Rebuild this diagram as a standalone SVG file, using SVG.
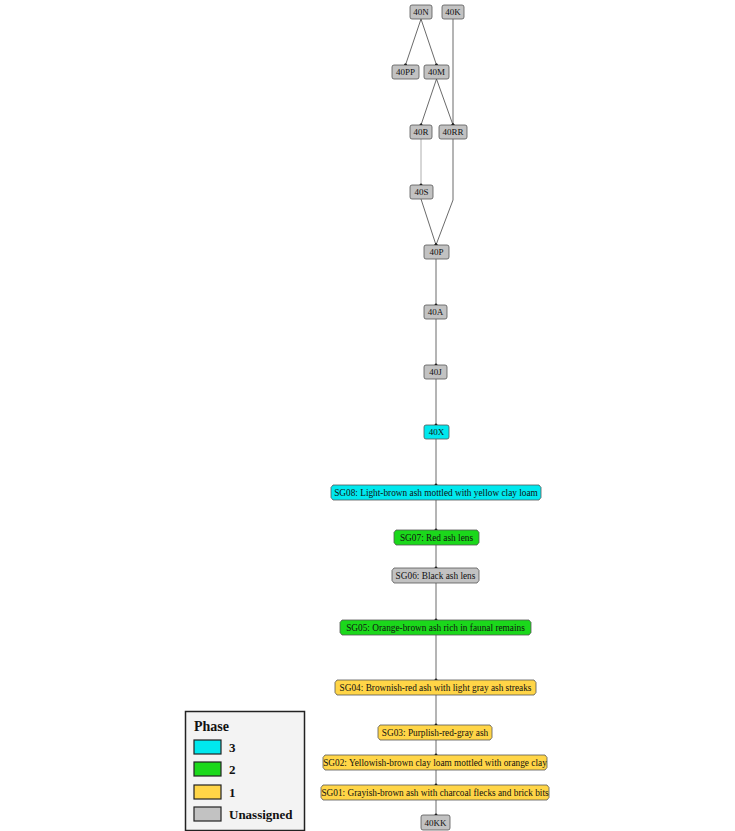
<svg xmlns="http://www.w3.org/2000/svg" width="735" height="831" viewBox="0 0 735 831">
<style>
.n rect,.n path{stroke:#555;stroke-width:0.8}
.g{fill:#c2c2c2}
.c{fill:#00e8ee}
.gr{fill:#1bd81b}
.y{fill:#ffd547}
.n text{font-family:"Liberation Serif",serif;font-size:9px;text-anchor:middle;fill:#111}
.n text.s{font-size:9.3px}
.e{stroke:#444;stroke-width:0.8;fill:none;marker-end:url(#dot)}
.lg text{font-family:"Liberation Serif",serif;font-weight:bold;fill:#111}
</style>
<defs>
<marker id="dot" viewBox="0 0 4 4" refX="2" refY="2" markerWidth="4" markerHeight="4" markerUnits="userSpaceOnUse" orient="auto">
<circle cx="2" cy="2" r="1.5" fill="#000"/>
</marker>
</defs>
<rect width="735" height="831" fill="#fff"/>
<g id="connectors">
<path class="e" d="M421,19 L405.5,65"/>
<path class="e" d="M421,19 L436.5,65"/>
<path class="e" d="M453,19 L453,125"/>
<path class="e" d="M436.5,79 L421,125"/>
<path class="e" d="M436.5,79 L453,125"/>
<path class="e" d="M421,139 L421,185" style="stroke:#999"/>
<path class="e" d="M421,199 L436,245"/>
<path class="e" d="M453,139 L453,200 L436,245"/>
<path class="e" d="M436,259 L436,305"/>
<path class="e" d="M436,319 L436,365"/>
<path class="e" d="M436,379 L436,425"/>
<path class="e" d="M436,439 L436,485"/>
<path class="e" d="M436,500 L436,530"/>
<path class="e" d="M436,545 L436,568"/>
<path class="e" d="M436,583 L436,620"/>
<path class="e" d="M436,635 L436,680"/>
<path class="e" d="M436,695 L436,725"/>
<path class="e" d="M436,740 L436,755"/>
<path class="e" d="M436,770 L436,785"/>
<path class="e" d="M436,800 L436,815"/>
</g>
<g id="n40N" class="n"><rect class="g" x="410" y="5" width="22" height="14" rx="2"/><text x="421" y="15.3">40N</text></g>
<g id="n40K" class="n"><rect class="g" x="442" y="5" width="22" height="14" rx="2"/><text x="453" y="15.3">40K</text></g>
<g id="n40PP" class="n"><rect class="g" x="392" y="65" width="27" height="14" rx="2"/><text x="405.5" y="75.3">40PP</text></g>
<g id="n40M" class="n"><rect class="g" x="424" y="65" width="25" height="14" rx="2"/><text x="436.5" y="75.3">40M</text></g>
<g id="n40R" class="n"><rect class="g" x="410" y="125" width="22" height="14" rx="2"/><text x="421" y="135.3">40R</text></g>
<g id="n40RR" class="n"><rect class="g" x="439" y="125" width="28" height="14" rx="2"/><text x="453" y="135.3">40RR</text></g>
<g id="n40S" class="n"><rect class="g" x="410" y="185" width="23" height="14" rx="2"/><text x="421.5" y="195.3">40S</text></g>
<g id="n40P" class="n"><rect class="g" x="424" y="245" width="25" height="14" rx="2"/><text x="436.5" y="255.3">40P</text></g>
<g id="n40A" class="n"><rect class="g" x="424" y="305" width="23" height="14" rx="2"/><text x="435.5" y="315.3">40A</text></g>
<g id="n40J" class="n"><rect class="g" x="424" y="365" width="23" height="14" rx="2"/><text x="435.5" y="375.3">40J</text></g>
<g id="n40X" class="n"><rect class="c" x="424" y="425" width="25" height="14" rx="2"/><text x="436.5" y="435.3">40X</text></g>
<g id="SG08" class="n"><path class="c" d="M333,485 H539 L541,487.5 V497.5 L539,500 H333 L331,497.5 V487.5 Z"/><text class="s" x="436" y="495.6">SG08: Light-brown ash mottled with yellow clay loam</text></g>
<g id="SG07" class="n"><path class="gr" d="M396,530 H477 L479,532.5 V542.5 L477,545 H396 L394,542.5 V532.5 Z"/><text class="s" x="436.5" y="540.6">SG07: Red ash lens</text></g>
<g id="SG06" class="n"><path class="g" d="M394,568 H477 L479,570.5 V580.5 L477,583 H394 L392,580.5 V570.5 Z"/><text class="s" x="435.5" y="578.6">SG06: Black ash lens</text></g>
<g id="SG05" class="n"><path class="gr" d="M342,620 H529 L531,622.5 V632.5 L529,635 H342 L340,632.5 V622.5 Z"/><text class="s" x="435.5" y="630.6">SG05: Orange-brown ash rich in faunal remains</text></g>
<g id="SG04" class="n"><path class="y" d="M337,680 H534 L536,682.5 V692.5 L534,695 H337 L335,692.5 V682.5 Z"/><text class="s" x="435.5" y="690.6">SG04: Brownish-red ash with light gray ash streaks</text></g>
<g id="SG03" class="n"><path class="y" d="M380,725 H490 L492,727.5 V737.5 L490,740 H380 L378,737.5 V727.5 Z"/><text class="s" x="435" y="735.6">SG03: Purplish-red-gray ash</text></g>
<g id="SG02" class="n"><path class="y" d="M325,755 H545 L547,757.5 V767.5 L545,770 H325 L323,767.5 V757.5 Z"/><text class="s" x="435" y="765.6">SG02: Yellowish-brown clay loam mottled with orange clay</text></g>
<g id="SG01" class="n"><path class="y" d="M323,785 H547 L549,787.5 V797.5 L547,800 H323 L321,797.5 V787.5 Z"/><text class="s" x="435" y="795.6">SG01: Grayish-brown ash with charcoal flecks and brick bits</text></g>
<g id="n40KK" class="n"><rect class="g" x="421" y="815" width="29" height="15" rx="2"/><text x="435.5" y="825.8">40KK</text></g>
<g id="legend" class="lg">
<rect x="185.5" y="711.5" width="119" height="119" fill="#f3f3f3" stroke="#222" stroke-width="1.5"/>
<text x="194" y="731" font-size="14">Phase</text>
<rect x="194" y="740" width="27" height="14" fill="#00e8ee" stroke="#222" stroke-width="1.2"/>
<text x="229" y="752" font-size="13">3</text>
<rect x="194" y="762" width="27" height="14" fill="#1bd81b" stroke="#222" stroke-width="1.2"/>
<text x="229" y="774" font-size="13">2</text>
<rect x="194" y="785" width="27" height="14" fill="#ffd547" stroke="#222" stroke-width="1.2"/>
<text x="229" y="797" font-size="13">1</text>
<rect x="194" y="807" width="27" height="14" fill="#c2c2c2" stroke="#222" stroke-width="1.2"/>
<text x="229" y="819" font-size="13">Unassigned</text>
</g>
</svg>
